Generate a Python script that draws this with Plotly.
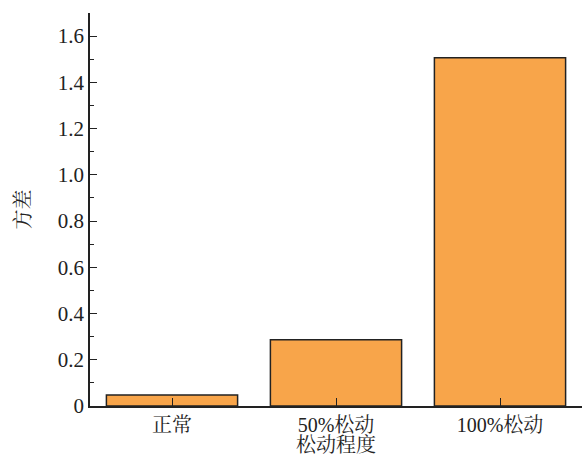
import plotly.graph_objects as go

# Variance of the signal at each looseness level
categories = ["正常", "50%松动", "100%松动"]
variance = [0.048, 0.287, 1.506]

y_ticks = [0, 0.2, 0.4, 0.6, 0.8, 1.0, 1.2, 1.4, 1.6]
y_tick_labels = ["0", "0.2", "0.4", "0.6", "0.8", "1.0", "1.2", "1.4", "1.6"]

FONT = "Liberation Serif, Times New Roman, Noto Serif CJK SC, Noto Sans CJK SC, serif"

fig = go.Figure(
    go.Bar(
        x=categories,
        y=variance,
        marker=dict(color="#F8A54A", line=dict(color="#222222", width=1.5)),
    )
)

fig.update_layout(
    width=586,
    height=456,
    margin=dict(l=90, r=4, t=13, b=50),
    paper_bgcolor="white",
    plot_bgcolor="white",
    bargap=0.2,
    showlegend=False,
    font=dict(family=FONT, size=21, color="#222222"),
)

fig.update_xaxes(
    range=[-0.5, 2.5],
    showline=True,
    linecolor="#222222",
    linewidth=1.5,
    ticks="inside",
    ticklen=8,
    tickwidth=1.3,
    tickcolor="#222222",
    showgrid=False,
    tickfont=dict(size=20),
    title=dict(text="松动程度", font=dict(size=20), standoff=3),
)

fig.update_yaxes(
    range=[0, 1.7],
    tickvals=y_ticks,
    ticktext=y_tick_labels,
    showline=True,
    linecolor="#222222",
    linewidth=1.5,
    ticks="inside",
    ticklen=7,
    tickwidth=1.3,
    tickcolor="#222222",
    minor=dict(dtick=0.1, ticks="inside", ticklen=4, tickcolor="#222222", tickwidth=1.2),
    showgrid=False,
    zeroline=False,
    tickfont=dict(size=21),
    title=dict(text="方差", font=dict(size=20), standoff=22),
)

fig.write_html("out.html")
